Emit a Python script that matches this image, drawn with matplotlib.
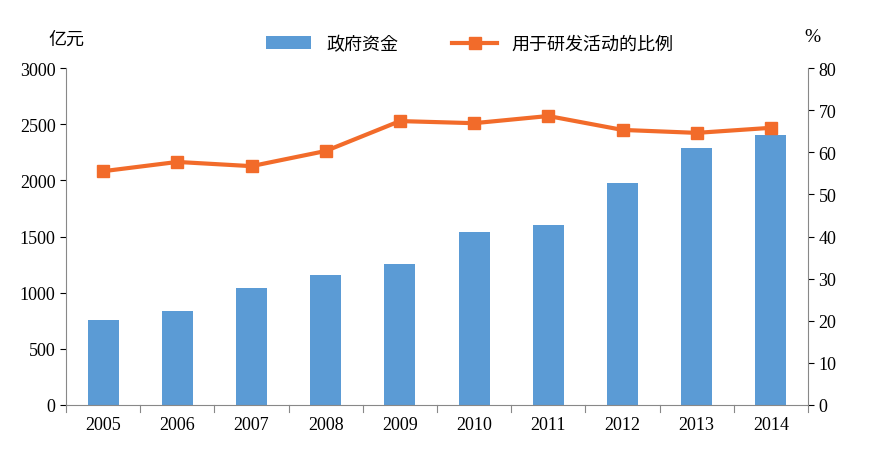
import matplotlib
matplotlib.use("Agg")
import matplotlib.pyplot as plt

years = ["2005","2006","2007","2008","2009","2010","2011","2012","2013","2014"]
funds = [760, 837, 1042, 1158, 1256, 1541, 1603, 1977, 2289, 2405]
ratio = [55.5, 57.7, 56.7, 60.3, 67.4, 66.9, 68.6, 65.3, 64.6, 65.8]

cjk = ["Noto Sans CJK JP", "Noto Sans CJK SC", "Noto Sans CJK TC", "Noto Sans CJK KR", "DejaVu Sans"]
serif = "Liberation Serif"

fig = plt.figure(figsize=(8.72, 4.56), dpi=100)
ax = fig.add_axes([66/872, 50/456, 742/872, 337/456])
x = range(len(years))
b = ax.bar(x, funds, width=0.42, color="#5B9BD5", label="政府资金", zorder=2)
ax.set_ylim(0, 3000)
ax.set_xlim(-0.5, len(years) - 0.5)
ax.set_yticks(range(0, 3001, 500))
ax.set_xticks(list(x))
ax.set_xticklabels(years, fontfamily=serif, fontsize=13)
for t in ax.get_yticklabels():
    t.set_fontfamily(serif); t.set_fontsize(13)
ax.tick_params(axis="x", length=0, pad=8)
ax.tick_params(axis="y", length=4, direction="out")
for s in ["top", "right"]:
    ax.spines[s].set_visible(False)
ax.spines["left"].set_color("#888888")
ax.spines["bottom"].set_color("#888888")
for i in range(len(years) + 1):
    ax.plot([i - 0.5, i - 0.5], [0, -60], color="#888888", lw=0.8, clip_on=False)

ax2 = ax.twinx()
l, = ax2.plot(list(x), ratio, color="#F26B2A", lw=3, marker="s", markersize=8, label="用于研发活动的比例", zorder=3)
ax2.set_ylim(0, 80)
ax2.set_yticks(range(0, 81, 10))
for t in ax2.get_yticklabels():
    t.set_fontfamily(serif); t.set_fontsize(13)
ax2.spines["top"].set_visible(False)
ax2.spines["left"].set_visible(False)
ax2.spines["bottom"].set_visible(False)
ax2.spines["right"].set_color("#888888")
ax2.tick_params(axis="y", length=4)

fig.text(48/872, 1 - 40/456, "亿元", fontfamily=cjk, fontsize=13, va="center")
fig.text(804/872, 1 - 38/456, "%", fontfamily=serif, fontsize=14, va="center")
fig.legend(handles=[b, l], loc="center", bbox_to_anchor=(470/872, 1 - 45/456), ncol=2,
           frameon=False, prop={"family": cjk, "size": 13}, handlelength=2.5, columnspacing=3)

fig.savefig("out.png", dpi=100)
